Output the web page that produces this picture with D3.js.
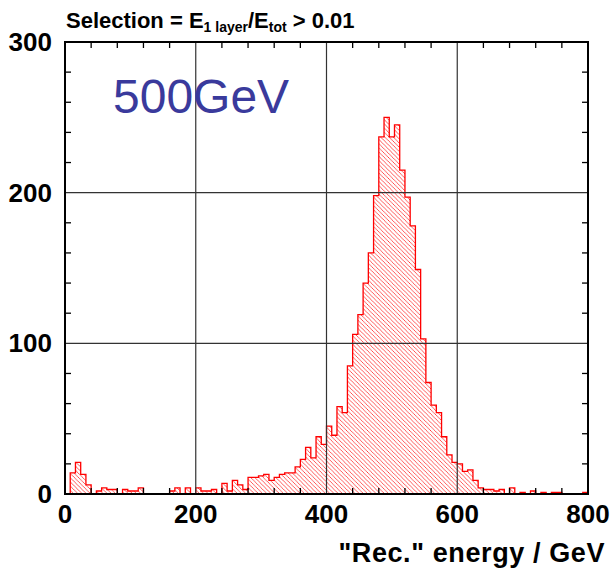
<!DOCTYPE html>
<html>
<head>
<meta charset="utf-8">
<script src="https://cdn.jsdelivr.net/npm/d3@7"></script>
<style>
  body { margin: 0; background: #fff; }
  text { font-family: "Liberation Sans", Arial, sans-serif; }
</style>
</head>
<body>
<script>
// Histogram of reconstructed energy, 100 bins of 8 GeV from 0 to 800.
const xMin = 0;
const binWidth = 8;
const counts = [
  0, 14, 21, 13, 6, 0, 2, 4, 3, 3,
  0, 3, 2, 2, 4, 0, 0, 0, 0, 0,
  2, 4, 0, 4, 0, 4, 2, 2, 3, 0,
  7, 2, 9, 6, 3, 11, 11, 12, 13, 9,
  11, 13, 14, 14, 18, 23, 31, 24, 38, 33,
  45, 39, 58, 54, 85, 106, 119, 140, 160, 198,
  237, 250, 237, 245, 215, 197, 178, 149, 103, 74,
  59, 54, 38, 26, 21, 20, 15, 16, 9, 4,
  3, 3, 2, 3, 0, 4, 0, 1, 0, 2,
  0, 1, 0, 1, 1, 0, 0, 0, 0, 1
];
const xTicks = [0, 200, 400, 600, 800];
const yTicks = [0, 100, 200, 300];
const xMinorTicks = [40, 80, 120, 160, 240, 280, 320, 360, 440, 480, 520, 560, 640, 680, 720, 760];
const yMinorTicks = [20, 40, 60, 80, 120, 140, 160, 180, 220, 240, 260, 280];
const titleText = "Selection = E";
const energyLabel = "500GeV";
const xLabel = '"Rec." energy / GeV';

const width = 614;
const height = 570;
const margin = { left: 65, right: 26, top: 42, bottom: 76 };

const x = d3.scaleLinear().domain([0, 800]).range([margin.left, width - margin.right]);
const y = d3.scaleLinear().domain([0, 300]).range([height - margin.bottom, margin.top]);

const svg = d3.select("body").append("svg")
  .attr("width", width)
  .attr("height", height);

// hatch pattern, lines going down to the right
const defs = svg.append("defs");
const pat = defs.append("pattern")
  .attr("id", "hatch")
  .attr("patternUnits", "userSpaceOnUse")
  .attr("width", 4.2)
  .attr("height", 4.2);
pat.append("path")
  .attr("d", "M0,0 L4.2,4.2 M-1,3.2 L1,5.2 M3.2,-1 L5.2,1")
  .attr("stroke", "#ff3030")
  .attr("stroke-width", 0.8);

// bins as step points
const points = counts.map((c, i) => ({ x: xMin + i * binWidth, y: c }));
points.push({ x: xMin + counts.length * binWidth, y: counts[counts.length - 1] });

const area = d3.area()
  .x(d => x(d.x))
  .y0(y(0))
  .y1(d => y(d.y))
  .curve(d3.curveStepAfter);

const line = d3.line()
  .x(d => x(d.x))
  .y(d => y(d.y))
  .curve(d3.curveStepAfter);

svg.append("path")
  .datum(points)
  .attr("d", area)
  .attr("fill", "url(#hatch)");

svg.append("path")
  .datum(points)
  .attr("d", line)
  .attr("fill", "none")
  .attr("stroke", "#ff0000")
  .attr("stroke-width", 1.3);

// grid
const grid = svg.append("g").attr("stroke", "#333").attr("stroke-width", 1.2);
grid.selectAll(".gx")
  .data(xTicks.slice(1, -1))
  .enter().append("line")
  .attr("x1", d => x(d)).attr("x2", d => x(d))
  .attr("y1", y(0)).attr("y2", y(300));
grid.selectAll(".gy")
  .data(yTicks.slice(1, -1))
  .enter().append("line")
  .attr("x1", x(0)).attr("x2", x(800))
  .attr("y1", d => y(d)).attr("y2", d => y(d));

// ticks, inward on all four sides
const tk = svg.append("g").attr("stroke", "#000").attr("stroke-width", 1.3);
const tl = 6;
xMinorTicks.forEach(v => {
  tk.append("line").attr("x1", x(v)).attr("x2", x(v)).attr("y1", y(0)).attr("y2", y(0) - tl);
  tk.append("line").attr("x1", x(v)).attr("x2", x(v)).attr("y1", y(300)).attr("y2", y(300) + tl);
});
yMinorTicks.forEach(v => {
  tk.append("line").attr("x1", x(0)).attr("x2", x(0) + tl).attr("y1", y(v)).attr("y2", y(v));
  tk.append("line").attr("x1", x(800)).attr("x2", x(800) - tl).attr("y1", y(v)).attr("y2", y(v));
});

// frame
svg.append("rect")
  .attr("x", x(0)).attr("y", y(300))
  .attr("width", x(800) - x(0)).attr("height", y(0) - y(300))
  .attr("fill", "none")
  .attr("stroke", "#000")
  .attr("stroke-width", 2);

// tick labels
svg.selectAll(".xl")
  .data(xTicks)
  .enter().append("text")
  .attr("x", d => x(d))
  .attr("y", y(0) + 29)
  .attr("text-anchor", "middle")
  .attr("font-size", 26)
  .attr("font-weight", "bold")
  .text(d => d);

svg.selectAll(".yl")
  .data(yTicks)
  .enter().append("text")
  .attr("x", x(0) - 13)
  .attr("y", d => y(d) + 9)
  .attr("text-anchor", "end")
  .attr("font-size", 26)
  .attr("font-weight", "bold")
  .text(d => d);

// title with subscripts
const title = svg.append("text")
  .attr("x", 66)
  .attr("y", 28)
  .attr("font-size", 22)
  .attr("font-weight", "bold");
title.append("tspan").text(titleText);
title.append("tspan").attr("font-size", 14).attr("dy", 4).text("1 layer");
title.append("tspan").attr("dy", -4).text("/E");
title.append("tspan").attr("font-size", 14).attr("dy", 4).text("tot");
title.append("tspan").attr("dy", -4).text(" > 0.01");

svg.append("text")
  .attr("x", 113)
  .attr("y", 113)
  .attr("font-family", "DejaVu Sans")
  .attr("font-size", 48)
  .attr("fill", "#3a3a9c")
  .text(energyLabel);

svg.append("text")
  .attr("x", 605)
  .attr("y", 562)
  .attr("text-anchor", "end")
  .attr("font-size", 27)
  .attr("letter-spacing", 0.6)
  .attr("font-weight", "bold")
  .text(xLabel);
</script>
</body>
</html>
